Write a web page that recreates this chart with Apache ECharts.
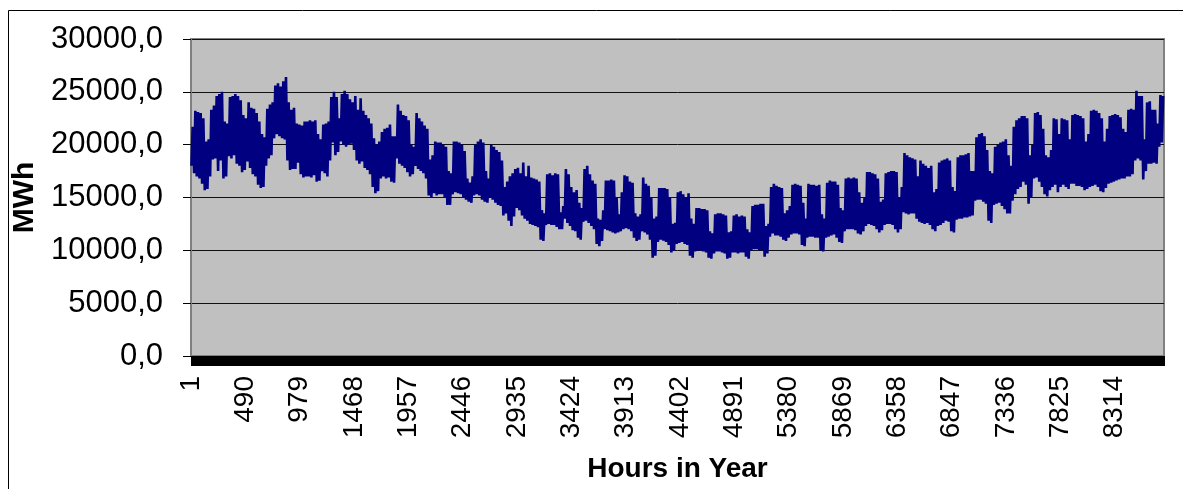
<!DOCTYPE html>
<html><head><meta charset="utf-8">
<script src="https://cdn.jsdelivr.net/npm/echarts@6/dist/echarts.min.js"></script>
<style>html,body{margin:0;padding:0;background:#fff}#c{width:1183px;height:489px}</style>
</head><body><div id="c"></div>
<script>
// Daily peak load (MWh), day 0..364
const dailyHigh = [
21700,23200,23100,23000,22500,20300,20500,23300,23700,24600,
24800,25000,22200,22000,24500,24600,24800,24600,24200,22800,
22500,24000,23500,23400,23000,22200,21000,20700,23400,23800,
24000,25600,25800,25500,26000,26400,24000,23300,23500,22000,
21900,21800,22200,22200,22300,22200,22300,21000,20500,21900,
22000,22200,24500,25000,24500,22500,24800,25100,24800,24300,
24000,24600,23300,24400,23200,22800,22500,22000,20600,20000,
20300,21200,21500,21600,21900,20800,20800,23800,23200,22800,
22700,22300,20000,19800,23000,22500,22200,21800,21500,18600,
19000,20300,20200,20200,20000,19800,17500,17300,20300,20300,
20200,20000,19400,16800,16400,17000,20000,20300,20500,20200,
17500,16800,20000,19800,19500,19300,18500,16000,16500,17000,
17300,17700,17800,17300,18300,17000,18000,16900,16800,16700,
16500,13800,13500,17200,17300,17100,17300,17200,13600,14200,
17700,17200,16000,15500,15700,14500,14000,17700,18000,17200,
16600,16300,13000,12900,13800,16600,16600,16700,16600,15000,
13400,15500,17100,17000,16500,16400,13500,13200,13400,16900,
16300,16100,15000,13000,13200,15900,15900,15900,15800,15000,
12500,12600,15500,15600,15300,15000,15400,13000,12500,14000,
14000,13900,13900,13800,11800,11600,13400,13500,13500,13400,
13300,11700,11800,13300,13400,13200,13300,13200,12000,11700,
14200,14300,14300,14400,14400,12300,12500,16000,16300,16100,
16000,15900,13500,13800,14200,16200,16300,16200,16100,14500,
13000,16300,16200,16200,16100,16200,13400,13000,16400,16600,
16500,16500,16200,14000,13800,16800,16900,16800,16900,16800,
15500,14500,15000,17400,17400,17300,17200,16800,14600,14800,
17300,17400,17500,17500,17400,15000,16000,19200,19000,18800,
18700,18600,17000,18500,18200,18000,17800,18000,15500,15800,
18300,18500,18600,18700,18500,16000,15600,18800,19000,19000,
19100,19200,17500,17500,20700,21000,21100,20800,19500,17500,
17300,19800,20000,20200,20300,20500,19000,18000,21700,22300,
22500,22700,22700,22500,19000,20000,23000,23100,22800,21500,
19000,18800,19500,22500,22400,21000,22500,22400,22300,20500,
22800,22900,22800,22700,22500,20300,21000,23200,23300,23200,
23000,22500,20300,21500,22700,22800,22900,22800,22600,21500,
21200,23300,23400,23300,25100,24600,24600,20500,24000,24100,
23300,23300,22000,24700,24600
];
// Daily night-time minimum load (MWh), day 0..364
const dailyLow = [
18000,17300,17000,16800,16300,15700,15800,17000,18600,18700,
17500,18500,16800,17000,18900,18700,19000,18200,18000,17400,
17600,18400,17800,17200,17000,16200,15900,16000,18000,18700,
19000,20600,21000,20800,20600,20500,18500,17600,17700,17700,
18300,17200,16900,17000,17000,16900,17100,16500,16600,17500,
17300,17000,18500,20200,19000,19300,20300,20000,19800,20000,
20100,19500,18500,18200,18400,17800,17600,17200,16000,15400,
15600,16800,17000,16800,16900,16500,16400,18700,18200,18000,
17800,17400,17000,17200,18000,17700,17500,17300,16800,15200,
15000,15400,15200,15300,15300,15000,14300,14300,15300,15500,
15400,15300,15000,14800,14600,14500,15200,15300,15200,14800,
14600,14500,15000,14800,14500,14300,14200,13300,13500,12800,
12300,13200,14000,13800,13300,13000,12800,12500,12400,12300,
12200,11000,10900,12400,12500,12400,12400,12200,12000,12000,
13000,12600,12300,11900,11800,11200,11000,12700,12800,12600,
12300,12000,10600,10400,10900,12000,11900,11800,11700,11600,
11700,11800,12000,12100,12000,11800,11200,10900,11000,11800,
11700,11500,11000,9300,9500,10800,11000,10900,10800,10500,
9800,10000,10600,10700,10800,10600,10500,9500,9300,9900,
10000,10000,9900,9800,9300,9200,9700,9900,9900,9800,
9700,9200,9300,9800,9800,9700,9800,9800,9400,9200,
10000,10100,10100,10000,10000,9400,9700,11300,11600,11400,
11400,11300,11000,10900,11200,11500,11600,11600,11500,10500,
10400,11200,11300,11300,11200,11200,10000,9900,11200,11300,
11400,11500,11200,10800,10700,11800,12000,12000,12000,11900,
11600,11500,11800,12300,12500,12400,12300,12000,11700,11900,
12400,12500,12500,12400,12000,11700,12000,13600,13500,13400,
13500,13500,13000,12700,12600,12500,12600,12400,12000,11800,
12300,12400,12600,12800,12700,11800,11700,12900,13000,13000,
13100,13100,13200,13300,14700,14800,14800,14600,14400,12800,
12600,14300,14400,14500,14200,13900,13500,13500,14700,15300,
15800,16000,16500,16200,14400,15000,16800,16900,16500,16000,
15300,15100,15700,16000,16200,15500,16000,16200,16000,15800,
16300,16300,16100,16100,16000,15700,15800,16000,16100,16200,
16000,15600,15500,15900,16300,16400,16500,16600,16700,16800,
16800,17000,17000,17200,18500,18700,18500,16700,17500,18200,
18200,18300,18200,19800,20200
];
const hoursInYear = 8760;
const labelStep = 489;           // a tick label every 489 hours: 1, 490, 979, ...
const yMin = 0, yMax = 30000, yStep = 5000;

const hourLabels = [];
for (let h = 1; h <= hoursInYear; h++) hourLabels.push(String(h));

// Each day: night minimum (~04:00) then daytime peak (~15:00)
const points = [];
for (let d = 0; d < dailyHigh.length; d++) {
  points.push([d * 24 + 4, dailyLow[d]]);
  points.push([d * 24 + 15, dailyHigh[d]]);
}

const FONT = 'Liberation Sans, Arial, sans-serif';
const chart = echarts.init(document.getElementById('c'), null, {renderer: 'canvas'});
chart.setOption({
  animation: false,
  backgroundColor: '#ffffff',
  graphic: [{
    type: 'rect', silent: true, z: 100,
    shape: {x: 8.5, y: 10.5, width: 1200, height: 520},
    style: {fill: 'none', stroke: '#000', lineWidth: 1}
  }],
  grid: {
    left: 191, right: 19, top: 39, bottom: 133,
    show: true, backgroundColor: '#C0C0C0', borderColor: '#808080', borderWidth: 2
  },
  xAxis: {
    type: 'category', data: hourLabels, boundaryGap: false,
    axisLine: {show: true, lineStyle: {color: '#000', width: 1}},
    axisTick: {show: true, interval: 0, length: 10, lineStyle: {color: '#000', width: 1}},
    axisLabel: {interval: (idx) => idx % labelStep === 0, rotate: 90, fontFamily: FONT, fontSize: 28,
                color: '#000', margin: 20},
    splitLine: {show: false},
    name: 'Hours in Year', nameLocation: 'middle', nameGap: 99,
    nameTextStyle: {fontFamily: FONT, fontWeight: 'bold', fontSize: 28, color: '#000'}
  },
  yAxis: {
    type: 'value', min: yMin, max: yMax, interval: yStep,
    axisLine: {show: true, lineStyle: {color: '#808080', width: 2}},
    axisTick: {show: true, length: 8, lineStyle: {color: '#000', width: 1}},
    splitLine: {show: true, lineStyle: {color: '#111', width: 1}},
    axisLabel: {formatter: v => v.toFixed(1).replace('.', ','), fontFamily: FONT,
                fontSize: 31, color: '#000', margin: 28},
    name: 'MWh', nameLocation: 'middle', nameRotate: 90, nameGap: 146,
    nameTextStyle: {fontFamily: FONT, fontWeight: 'bold', fontSize: 30, color: '#000'}
  },
  series: [{
    type: 'line', data: points, showSymbol: false, silent: true,
    sampling: null, clip: true,
    lineStyle: {color: '#000080', width: 2.6}
  }]
});
</script>
</body></html>
